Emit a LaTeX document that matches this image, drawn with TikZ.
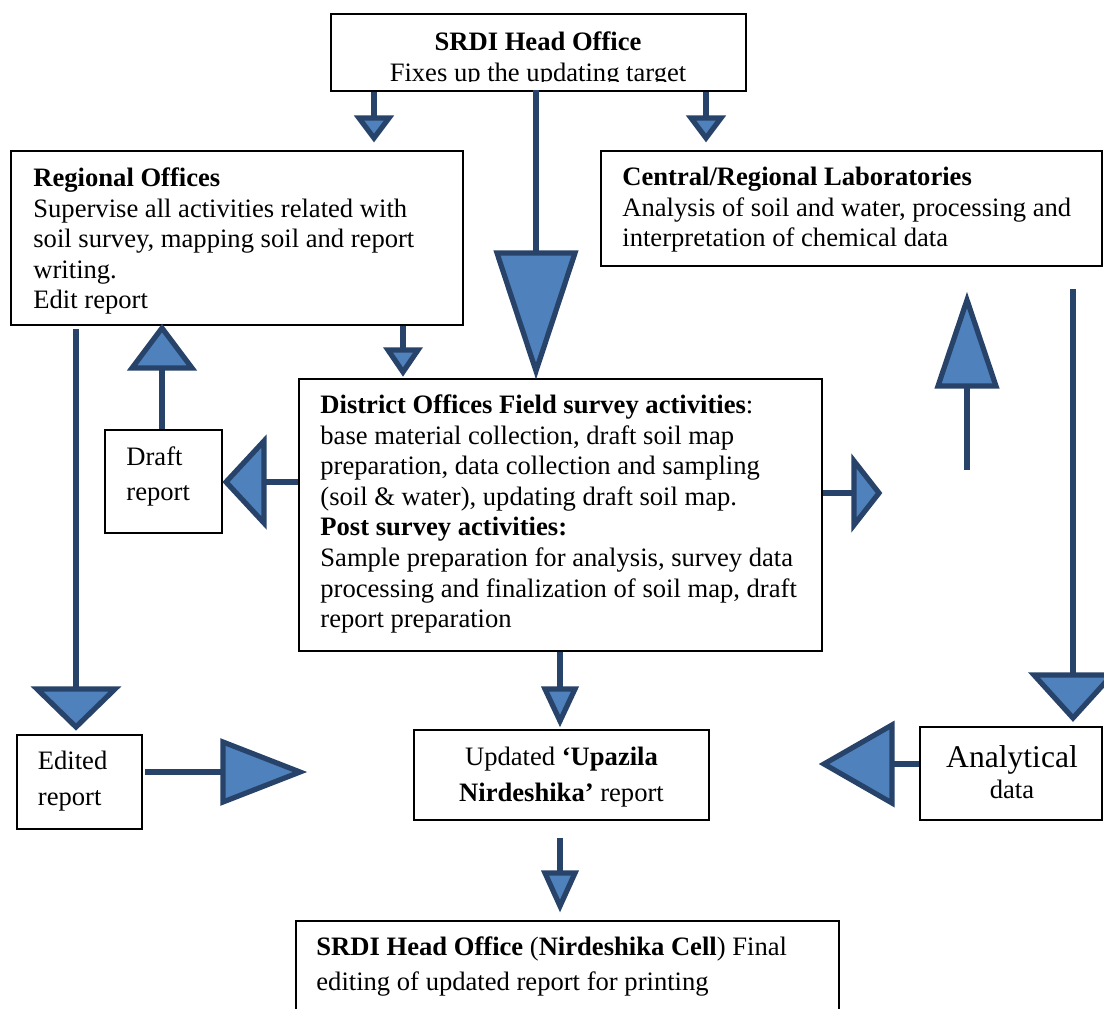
\documentclass[tikz,border=0pt]{standalone}
\usepackage{fontspec}
\setmainfont{Liberation Serif}
\usetikzlibrary{calc}
\definecolor{arrline}{HTML}{28436A}
\definecolor{arrfill}{HTML}{4F81BD}
\newcommand\Ts{\rule{0pt}{10pt}}
\newcommand\ArrDown[3]{\filldraw[tri] ($(#1)+(-#2,0)$) -- ($(#1)+(#2,0)$) -- ($(#1)+(0,#3)$) -- cycle;}
\newcommand\ArrUp[3]{\filldraw[tri] ($(#1)+(-#2,0)$) -- ($(#1)+(#2,0)$) -- ($(#1)+(0,-#3)$) -- cycle;}
\newcommand\ArrLeft[3]{\filldraw[tri] ($(#1)+(0,-#2)$) -- ($(#1)+(0,#2)$) -- ($(#1)+(-#3,0)$) -- cycle;}
\newcommand\ArrRight[3]{\filldraw[tri] ($(#1)+(0,-#2)$) -- ($(#1)+(0,#2)$) -- ($(#1)+(#3,0)$) -- cycle;}
\begin{document}
\begin{tikzpicture}[x=0.5pt,y=-0.5pt,
  box/.style={draw=black,line width=0.8pt,inner sep=0pt,fill=white},
  txt/.style={inner sep=0pt,anchor=north west,align=left,font=\fontsize{13.3pt}{15.3pt}\selectfont},
  shaft/.style={draw=arrline,line width=3pt},
  tri/.style={draw=arrline,fill=arrfill,line width=2.6pt,line join=miter}]
\useasboundingbox (0,0) rectangle (1104,1008);
\fill[white] (0,0) rectangle (1104,1008);

% boxes
\node[box,minimum width=207.5pt,minimum height=38.5pt] (ho) at (538.5,52.5) {};
\node[box,minimum width=226pt,minimum height=87pt] (reg) at (237,238) {};
\node[box,minimum width=250.5pt,minimum height=57.5pt] (lab) at (851.5,208.5) {};
\node[box,minimum width=261.5pt,minimum height=136pt] (dist) at (560.5,515) {};
\node[box,minimum width=58.5pt,minimum height=51.5pt] (draft) at (163.5,481.5) {};
\node[box,minimum width=62.5pt,minimum height=47pt] (edited) at (79.5,782) {};
\node[box,minimum width=147.5pt,minimum height=45pt] (upd) at (561.5,775) {};
\node[box,minimum width=91pt,minimum height=46.5pt] (ana) at (1011,773.5) {};
\node[box,minimum width=271.5pt,minimum height=49.5pt] (fin) at (567.5,970.5) {};

% texts
\begin{scope}
\clip (300,0) rectangle (780,81);
\node[txt,anchor=north,align=center] (hot) at (538,30) {\Ts\textbf{SRDI Head Office}\\Fixes up the updating target};
\end{scope}
\node[txt] (regt) at (33,166) {\Ts\textbf{Regional Offices}\\Supervise all activities related with\\soil survey, mapping soil and report\\writing.\\Edit report};
\node[txt] (labt) at (622,165) {\Ts\textbf{Central/Regional Laboratories}\\Analysis of soil and water, processing and\\interpretation of chemical data};
\node[txt] (distt) at (320,393) {\Ts\textbf{District Offices Field survey activities}:\\base material collection, draft soil map\\preparation, data collection and sampling\\(soil \& water), updating draft soil map.\\\textbf{Post survey activities:}\\Sample preparation for analysis, survey data\\processing and finalization of soil map, draft\\report preparation};
\node[txt,font=\fontsize{13.3pt}{17.5pt}\selectfont] (draftt) at (126,445) {\Ts Draft\\report};
\node[txt,font=\fontsize{13.3pt}{18pt}\selectfont] (editt) at (37.5,749) {\Ts Edited\\report};
\node[txt,anchor=north,align=center,font=\fontsize{13.3pt}{18pt}\selectfont] (updt) at (561.5,745) {\Ts Updated \textbf{‘Upazila}\\\textbf{Nirdeshika’} report};
\node[inner sep=0pt,anchor=base,font=\fontsize{15.8pt}{18pt}\selectfont] (anaa) at (1012,767) {Analytical};
\node[inner sep=0pt,anchor=base,font=\fontsize{13.3pt}{15.3pt}\selectfont] (anab) at (1012,798) {data};
\node[txt,font=\fontsize{13.3pt}{17.5pt}\selectfont] (fint) at (316,935) {\Ts\textbf{SRDI Head Office} (\textbf{Nirdeshika Cell}) Final\\editing of updated report for printing};

% arrow base coordinates
\coordinate (b1) at (374,118);
\coordinate (b2) at (706,118);
\coordinate (b3) at (536,253);
\coordinate (b4) at (403,350);
\coordinate (b5) at (162,368);
\coordinate (b6) at (264,482);
\coordinate (b7) at (854,493);
\coordinate (b8) at (967,386);
\coordinate (s8) at (967,470);
\coordinate (b9) at (1073,675);
\coordinate (s9) at (1073,289);
\coordinate (b10) at (76,689);
\coordinate (b11) at (223,772);
\coordinate (b12) at (892,764);
\coordinate (b13) at (560,689);
\coordinate (b14) at (560,873);

% shafts
\draw[shaft] (ho.south -| b1) -- (b1);
\draw[shaft] (ho.south -| b2) -- (b2);
\draw[shaft] ($(ho.south -| b3)+(0,-2)$) -- (b3);
\draw[shaft] (reg.south -| b4) -- (b4);
\draw[shaft] (draft.north -| b5) -- (b5);
\draw[shaft] (dist.west |- b6) -- (b6);
\draw[shaft] (dist.east |- b7) -- (b7);
\draw[shaft] (s8) -- (b8);
\draw[shaft] (s9) -- (b9);
\draw[shaft] ($(reg.south -| b10)+(0,3)$) -- (b10);
\draw[shaft] ($(edited.east |- b11)+(2,0)$) -- (b11);
\draw[shaft] (ana.west |- b12) -- (b12);
\draw[shaft] (dist.south -| b13) -- (b13);
\draw[shaft] ($(upd.south -| b14)+(0,17)$) -- (b14);

% heads
\ArrDown{b1}{15}{20}
\ArrDown{b2}{15}{20}
\ArrDown{b3}{39}{118}
\ArrDown{b4}{15}{22}
\ArrUp{b5}{30}{40}
\ArrLeft{b6}{41}{38}
\ArrRight{b7}{32}{25}
\ArrUp{b8}{29}{86}
\ArrDown{b9}{39}{43}
\ArrDown{b10}{39}{38}
\ArrRight{b11}{30}{77}
\ArrLeft{b12}{39}{68}
\ArrDown{b13}{15}{32}
\ArrDown{b14}{15}{33}
\end{tikzpicture}
\end{document}
